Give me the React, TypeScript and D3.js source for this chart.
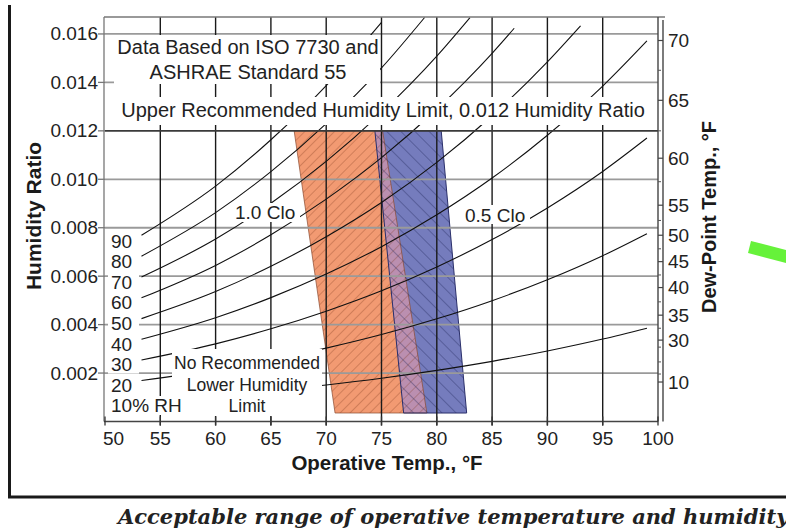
import React from "react";
import * as d3 from "d3";

// operative temperature ticks (°F) and humidity ratio ticks
const xTicks = [50, 55, 60, 65, 70, 75, 80, 85, 90, 95, 100];
const xGrid = [55, 60, 65, 70, 75, 80, 85, 90, 95];
const yTicks = [0.002, 0.004, 0.006, 0.008, 0.01, 0.012, 0.014, 0.016];
const yTickLabels = ["0.002", "0.004", "0.006", "0.008", "0.010", "0.012", "0.014", "0.016"];
const upperLimit = 0.012;

// dew-point scale on the right (label, humidity ratio where it sits)
const dewLabels = ["70", "65", "60", "55", "50", "45", "40", "35", "30", "10"];
const dewW = [0.01573, 0.01326, 0.01087, 0.00893, 0.00769, 0.0066, 0.00553, 0.00439, 0.00336, 0.00163];
const dewMinorW = [0.00196, 0.00246, 0.00307, 0.00385, 0.00494, 0.00605, 0.00713, 0.0083, 0.0099, 0.012, 0.0145];

// relative humidity curves, [°F, humidity ratio]
const rh10 = [[53.3, 0.000845], [60, 0.001064], [65, 0.00127], [70, 0.00151], [75, 0.001788], [80, 0.002111], [85, 0.002483], [90, 0.002912], [95, 0.003405], [99, 0.003853]];
const rh20 = [[53.3, 0.001692], [60, 0.002133], [65, 0.002546], [70, 0.003029], [75, 0.003588], [80, 0.004239], [85, 0.004988], [90, 0.005853], [95, 0.006847], [99, 0.007756]];
const rh30 = [[53.3, 0.002541], [60, 0.003206], [65, 0.003827], [70, 0.004554], [75, 0.005396], [80, 0.00638], [85, 0.007513], [90, 0.008818], [95, 0.010324], [99, 0.011702]];
const rh40 = [[53.3, 0.003394], [60, 0.004282], [65, 0.005114], [70, 0.006088], [75, 0.007219], [80, 0.008535], [85, 0.010052], [90, 0.011819], [95, 0.01385], [99, 0.015715]];
const rh50 = [[53.3, 0.004248], [60, 0.005363], [65, 0.006409], [70, 0.00763], [75, 0.009044], [80, 0.010698], [85, 0.012622], [90, 0.014845], [93, 0.016335]];
const rh60 = [[53.3, 0.005105], [60, 0.006445], [65, 0.007707], [70, 0.00918], [75, 0.010892], [80, 0.012892], [85, 0.015203], [87, 0.016235]];
const rh70 = [[53.3, 0.005963], [60, 0.007533], [65, 0.009008], [70, 0.010739], [75, 0.012754], [80, 0.015086], [83, 0.016677]];
const rh80 = [[53.3, 0.006825], [60, 0.008624], [65, 0.010315], [70, 0.012301], [75, 0.014595], [78.9, 0.01668]];
const rh90 = [[53.3, 0.007689], [60, 0.009719], [65, 0.011631], [70, 0.013868], [75, 0.01648]];
const rhCurves = [rh10, rh20, rh30, rh40, rh50, rh60, rh70, rh80, rh90];
const rhLabels = ["90", "80", "70", "60", "50", "40", "30", "20"];

// comfort zones, [°F, humidity ratio]
const clo10 = [[67.1, 0.012], [75.1, 0.012], [79.1, 0.00035], [70.8, 0.00035]];
const clo05 = [[74.4, 0.012], [80.4, 0.012], [82.7, 0.00035], [77.0, 0.00035]];
const cloBoth = [[74.4, 0.012], [75.1, 0.012], [79.1, 0.00035], [77.0, 0.00035]];

const FONT = "'Liberation Sans', Arial, Helvetica, sans-serif";

export default function App() {
  const x = d3.scaleLinear().domain([50, 100]).range([105, 658]);
  const y = d3.scaleLinear().domain([0, 0.0167]).range([421.5, 17]);
  const [x0, x1] = x.range();
  const [yb, yt] = y.range();

  const line = d3
    .line<number[]>()
    .x((d) => x(d[0]))
    .y((d) => y(d[1]))
    .curve(d3.curveMonotoneX);
  const poly = (pts: number[][]) => "M" + pts.map((p) => `${x(p[0])},${y(p[1])}`).join("L") + "Z";

  // white backgrounds behind the annotation texts
  const boxes = [
    [114, 35, 266, 49],
    [114, 97, 538, 28],
    [172, 349, 150, 67],
    [232, 203, 68, 19],
    [462, 205, 68, 19],
  ];

  return (
    <svg width={786} height={531} style={{ position: "fixed", left: 0, top: 0, background: "#fff" }} fontFamily={FONT}>
      <defs>
        <pattern id="hatchO" width={7} height={7} patternUnits="userSpaceOnUse" patternTransform="rotate(45)">
          <line x1={0} y1={0} x2={0} y2={7} stroke="#7a3418" strokeOpacity={0.75} strokeWidth={0.75} />
        </pattern>
        <pattern id="hatchB" width={10} height={10} patternUnits="userSpaceOnUse" patternTransform="rotate(-45)">
          <line x1={0} y1={0} x2={0} y2={10} stroke="#1b1f52" strokeOpacity={0.8} strokeWidth={0.85} />
        </pattern>
        <clipPath id="plot">
          <rect x={x0} y={yt} width={x1 - x0} height={yb - yt} />
        </clipPath>
      </defs>
      <rect width={786} height={531} fill="#fff" />

      {/* comfort zones */}
      <path d={poly(clo10)} fill="#f29a72" />
      <path d={poly(clo05)} fill="#757cbd" />
      <path d={poly(cloBoth)} fill="#bb8fb0" />
      <path d={poly(clo10)} fill="url(#hatchO)" stroke="#8a4a30" strokeWidth={0.7} />
      <path d={poly(clo05)} fill="url(#hatchB)" stroke="#2a2f6a" strokeWidth={1} />

      {/* grid */}
      {yTicks.filter((v) => v !== upperLimit).map((v) => (
        <line key={v} x1={x0} x2={x1} y1={y(v)} y2={y(v)} stroke="#9a9a9a" strokeWidth={1.8} />
      ))}
      {xGrid.map((v) => (
        <line key={v} x1={x(v)} x2={x(v)} y1={yt} y2={yb + 4} stroke="#1a1a1a" strokeWidth={1.4} />
      ))}

      {/* relative humidity curves */}
      <g clipPath="url(#plot)">
        {rhCurves.map((c, i) => (
          <path key={i} d={line(c) || ""} fill="none" stroke="#111" strokeWidth={1.1} />
        ))}
      </g>
      <line x1={x0} x2={x1} y1={y(upperLimit)} y2={y(upperLimit)} stroke="#3a3a3a" strokeWidth={1.6} />

      {/* label backgrounds */}
      {boxes.map((b, i) => (
        <rect key={i} x={b[0]} y={b[1]} width={b[2]} height={b[3]} fill="#fff" />
      ))}
      {rhLabels.map((l, i) => (
        <rect key={l} x={108} y={241 + i * 20.6 - 10} width={31} height={19} fill="#fff" />
      ))}
      <rect x={108} y={396} width={78} height={19} fill="#fff" />

      {/* annotations */}
      <g fontSize={20} fill="#222" textAnchor="middle">
        <text x={248} y={54}>Data Based on ISO 7730 and</text>
        <text x={248} y={79}>ASHRAE Standard 55</text>
        <text x={383} y={117}>Upper Recommended Humidity Limit, 0.012 Humidity Ratio</text>
      </g>
      <g fontSize={19} fill="#222">
        <text x={235} y={219}>1.0 Clo</text>
        <text x={465} y={222}>0.5 Clo</text>
      </g>
      <g fontSize={17.5} fill="#222" textAnchor="middle">
        <text x={247} y={369}>No Recommended</text>
        <text x={247} y={391}>Lower Humidity</text>
        <text x={247} y={412}>Limit</text>
      </g>
      <g fontSize={19} fill="#222">
        {rhLabels.map((l, i) => (
          <text key={l} x={111} y={241 + i * 20.6} dominantBaseline="central">{l}</text>
        ))}
        <text x={111} y={405} dominantBaseline="central">10% RH</text>
      </g>

      {/* plot frame */}
      <line x1={x0 - 1} x2={x0 - 1} y1={yt} y2={yb} stroke="#777" strokeWidth={1.3} />
      <line x1={x0 - 1} x2={665} y1={yt} y2={yt} stroke="#777" strokeWidth={1.3} />
      <line x1={x0 - 1} x2={x1} y1={yb} y2={yb} stroke="#444" strokeWidth={1.6} />
      <line x1={x1} x2={x1} y1={yt} y2={yb} stroke="#444" strokeWidth={1.4} />
      <line x1={663} x2={663} y1={yt + 3} y2={yb} stroke="#444" strokeWidth={1.4} />

      {/* left axis */}
      {yTicks.map((v, i) => (
        <g key={v}>
          <line x1={x0 - 7} x2={x0} y1={y(v)} y2={y(v)} stroke="#777" strokeWidth={1.3} />
          <text x={98} y={y(v)} fontSize={19} textAnchor="end" dominantBaseline="central" fill="#222">{yTickLabels[i]}</text>
        </g>
      ))}
      {/* bottom axis */}
      {xTicks.map((v, i) => (
        <g key={v}>
          <line x1={x(v)} x2={x(v)} y1={yb - 5} y2={yb + 4} stroke="#333" strokeWidth={1.3} />
          <text x={i === 0 ? x(v) - 2 : x(v)} y={445} fontSize={19} textAnchor={i === 0 ? "start" : "middle"} fill="#222">{v}</text>
        </g>
      ))}
      {/* right dew-point axis */}
      {dewMinorW.map((v) => (
        <line key={v} x1={x1} x2={661} y1={y(v)} y2={y(v)} stroke="#555" strokeWidth={1} />
      ))}
      {dewW.map((v, i) => (
        <g key={v}>
          <line x1={x1} x2={663} y1={y(v)} y2={y(v)} stroke="#444" strokeWidth={1.2} />
          <text x={668} y={y(v)} fontSize={19} dominantBaseline="central" fill="#222">{dewLabels[i]}</text>
        </g>
      ))}

      {/* axis titles */}
      <text transform="translate(41,216) rotate(-90)" fontSize={21} fontWeight="bold" textAnchor="middle" fill="#1a1a1a">Humidity Ratio</text>
      <text x={387} y={470} fontSize={20.5} fontWeight="bold" textAnchor="middle" fill="#1a1a1a">Operative Temp., °F</text>
      <text transform="translate(716,217) rotate(-90)" fontSize={20} fontWeight="bold" textAnchor="middle" fill="#1a1a1a">Dew-Point Temp., °F</text>

      {/* page frame and caption */}
      <line x1={9.5} x2={9.5} y1={5} y2={498} stroke="#1a1a1a" strokeWidth={3} />
      <line x1={8} x2={786} y1={497} y2={497} stroke="#1a1a1a" strokeWidth={3} />
      <text x={118} y={524} fontFamily="'DejaVu Serif', serif" fontWeight="bold" fontStyle="italic" fontSize={21} fill="#222">
        Acceptable range of operative temperature and humidity
      </text>
      <path d="M751,241 L786,250 L786,263 L748,253 Z" fill="#66f23a" />
    </svg>
  );
}
